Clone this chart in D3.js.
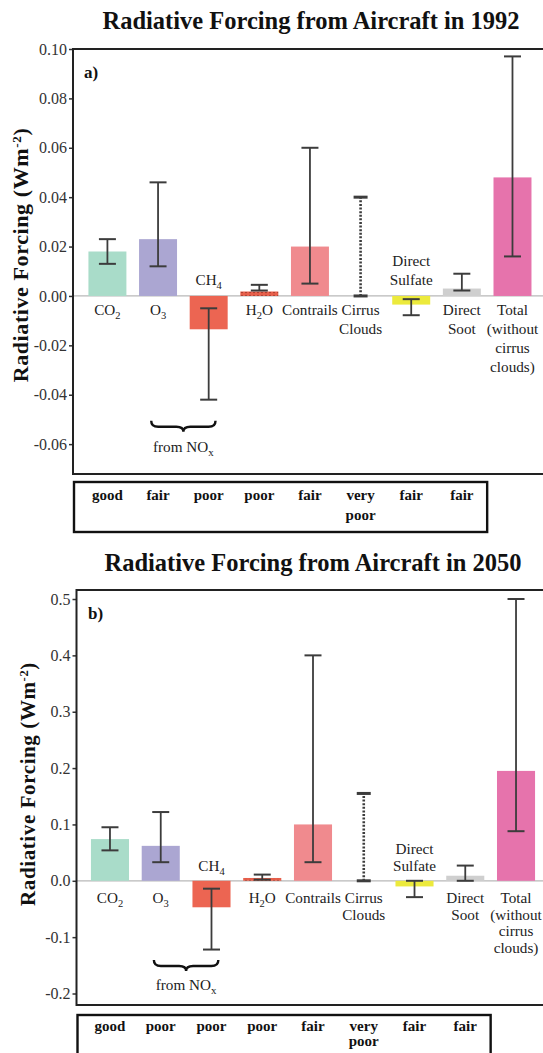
<!DOCTYPE html>
<html><head><meta charset="utf-8">
<script src="https://cdn.jsdelivr.net/npm/d3@7"></script>
<style>body{margin:0;background:#fff;} svg{display:block;} text{font-family:"Liberation Serif",serif;}</style>
</head><body><svg id="c" width="543" height="1053"></svg>
<script>
// ---------- DATA ----------
const categories = ["CO2","O3","CH4","H2O","Contrails","Cirrus","Sulfate","Soot","Total"];
const categoryLabels = [["CO_2"],["O_3"],["CH_4"],["H_2O"],["Contrails"],["Cirrus","Clouds"],["Direct","Sulfate"],["Direct","Soot"],["Total","(without","cirrus","clouds)"]];

const values1992 = [0.018, 0.023, -0.0135, 0.0018, 0.020, null, -0.0035, 0.003, 0.048];
const low1992    = [0.013, 0.012, -0.042, 0.0022, 0.005, 0.0, -0.0078, 0.0022, 0.016];
const high1992   = [0.023, 0.046, -0.005, 0.0045, 0.060, 0.040, -0.0013, 0.009, 0.097];
const quality1992 = ["good","fair","poor","poor","fair","very poor","fair","fair"];
const ticks1992 = [0.10, 0.08, 0.06, 0.04, 0.02, 0.00, -0.02, -0.04, -0.06];
const tickLabels1992 = ["0.10","0.08","0.06","0.04","0.02","0.00","-0.02","-0.04","-0.06"];

const values2050 = [0.074, 0.062, -0.047, 0.005, 0.100, null, -0.010, 0.009, 0.195];
const low2050    = [0.054, 0.033, -0.122, 0.002, 0.033, 0.0, -0.029, 0.0, 0.088];
const high2050   = [0.095, 0.122, -0.014, 0.011, 0.400, 0.155, 0.0, 0.027, 0.500];
const quality2050 = ["good","poor","poor","poor","fair","very poor","fair","fair"];
const ticks2050 = [0.5, 0.4, 0.3, 0.2, 0.1, 0.0, -0.1, -0.2];
const tickLabels2050 = ["0.5","0.4","0.3","0.2","0.1","0.0","-0.1","-0.2"];

// ---------- STYLE ----------
const barColors = ["#a9dcc9","#aba6d2","#ec6552","url(#h2oPat)","#f08a8e","none","#ecea3c","#cfcfcf","#e673ac"];
const SERIF = "Liberation Serif, serif";
const svg = d3.select("#c");

const defs = svg.append("defs");
const pat = defs.append("pattern").attr("id","h2oPat").attr("patternUnits","userSpaceOnUse")
  .attr("width",4).attr("height",3);
pat.append("rect").attr("width",4).attr("height",3).attr("fill","#e8604c");
pat.append("circle").attr("cx",2).attr("cy",1.5).attr("r",0.7).attr("fill","#8a2a1c");

function rich(textSel, s, subSize) {
  const parts = s.split(/_(.)/);
  let shifted = 0;
  parts.forEach((p, i) => {
    if (!p) return;
    const t = textSel.append("tspan").text(p);
    if (i % 2 === 1) { t.attr("dy", 4).attr("font-size", subSize); shifted = 4; }
    else if (shifted) { t.attr("dy", -shifted); shifted = 0; }
  });
}

function braceH(x0, x1, yTop, h) {
  const xc = (x0 + x1) / 2, ym = yTop + h * 0.55, yb = yTop + h, r = 7;
  return `M${x0},${yTop} Q${x0},${ym} ${x0+r},${ym} L${xc-r},${ym} Q${xc},${ym} ${xc},${yb} Q${xc},${ym} ${xc+r},${ym} L${x1-r},${ym} Q${x1},${ym} ${x1},${yTop}`;
}

function draw(cfg) {
  const g = svg.append("g");
  const x = d3.scaleBand().domain(categories).range(cfg.xRange).paddingInner(0.25).paddingOuter(0.125);
  const y = d3.scaleLinear().domain(cfg.yDomain).range([cfg.bottom, cfg.top]);
  const step = x.step(), bw = x.bandwidth();
  const cx = c => x(c) + bw / 2;

  g.append("text").attr("x", cfg.titleX).attr("y", cfg.titleY).attr("text-anchor","middle")
    .attr("font-family", SERIF).attr("font-weight","bold").attr("font-size", 24.5).attr("fill","#111")
    .text(cfg.title);

  g.append("line").attr("x1", cfg.left).attr("x2", cfg.right).attr("y1", y(0)).attr("y2", y(0))
    .attr("stroke","#b8b8b8").attr("stroke-width",1.2);

  g.selectAll("rect.bar").data(categories.map((c,i)=>({c, v: cfg.values[i], i})).filter(d => d.v !== null))
    .join("rect").attr("class","bar")
    .attr("x", d => x(d.c)).attr("width", bw)
    .attr("y", d => y(Math.max(0, d.v))).attr("height", d => Math.abs(y(d.v) - y(0)))
    .attr("fill", d => barColors[d.i]);

  const eb = categories.map((c,i)=>({c, lo: cfg.low[i], hi: cfg.high[i], dotted: cfg.values[i] === null}));
  const eg = g.append("g").attr("stroke","#3c3c3c");
  eb.forEach(d => {
    const xc = cx(d.c);
    eg.append("line").attr("x1", xc).attr("x2", xc).attr("y1", y(d.lo)).attr("y2", y(d.hi))
      .attr("stroke-width", d.dotted ? 2.6 : 1.8).attr("stroke-dasharray", d.dotted ? "2,1.6" : null);
    const cw = d.dotted ? 7 : 8.5;
    [d.lo, d.hi].forEach(v => eg.append("line").attr("x1", xc - cw).attr("x2", xc + cw)
      .attr("y1", y(v)).attr("y2", y(v)).attr("stroke-width", d.dotted ? 3 : 2));
  });

  categories.forEach((c, i) => {
    const lines = categoryLabels[i];
    const above = cfg.values[i] !== null && cfg.values[i] < 0;
    lines.forEach((ln, j) => {
      const yy = above ? y(0) - cfg.labelAbove - (lines.length - 1 - j) * cfg.lineHAbove
                       : y(0) + cfg.labelBelow + j * cfg.lineH;
      const t = g.append("text").attr("x", cx(c)).attr("y", yy).attr("text-anchor","middle")
        .attr("font-family", SERIF).attr("font-size", cfg.labelSize).attr("fill","#222");
      rich(t, ln, 10.5);
    });
  });

  const mid = (cx("O3") + cx("CH4")) / 2;
  const bx0 = mid - step * 0.635, bx1 = mid + step * 0.635;
  g.append("path").attr("d", braceH(bx0, bx1, y(cfg.braceV), cfg.braceH))
    .attr("fill","none").attr("stroke","#111").attr("stroke-width",2.4);
  const ft = g.append("text").attr("x", mid).attr("y", y(cfg.fromV)).attr("text-anchor","middle")
    .attr("font-family", SERIF).attr("font-size", cfg.labelSize).attr("fill","#222");
  rich(ft, "from NO_x", 11);

  g.append("text").attr("x", cfg.panelX).attr("y", cfg.panelY).attr("font-family", SERIF)
    .attr("font-weight","bold").attr("font-size", 17).attr("fill","#111").text(cfg.panel);

  const ax = g.append("g").attr("transform", `translate(${cfg.left},0)`)
    .call(d3.axisLeft(y).tickValues(cfg.ticks).tickFormat((d,i)=>cfg.tickLabels[i]).tickSize(4).tickPadding(2).tickSizeOuter(0));
  ax.attr("font-family", SERIF);
  ax.select(".domain").remove();
  ax.selectAll(".tick line").attr("stroke","#333").attr("stroke-width",1.5);
  ax.selectAll(".tick text").attr("font-family", SERIF).attr("font-size", cfg.tickSize).attr("fill","#333");

  g.append("path").attr("d", `M${cfg.right},${cfg.top} L${cfg.left},${cfg.top} L${cfg.left},${cfg.bottom} L${cfg.right},${cfg.bottom}`)
    .attr("fill","none").attr("stroke","#222").attr("stroke-width",2);

  const yt = g.append("text").attr("transform", `translate(${cfg.yTitleX},${cfg.yTitleY}) rotate(-90)`)
    .attr("text-anchor","middle").attr("font-family", SERIF).attr("font-weight","bold")
    .attr("font-size", cfg.yTitleSize).attr("letter-spacing", 0.6).attr("fill","#111");
  yt.append("tspan").text("Radiative Forcing (Wm");
  yt.append("tspan").attr("dy",-7).attr("font-size", cfg.yTitleSize * 0.6).text("-2");
  yt.append("tspan").attr("dy",7).text(")");

  const tx1 = cx("Soot") + step / 2;
  g.append("rect").attr("x", cfg.left + 1).attr("y", cfg.tableTop).attr("width", tx1 - cfg.left - 1)
    .attr("height", cfg.tableBottom - cfg.tableTop).attr("fill","none").attr("stroke","#111").attr("stroke-width",2.4);
  cfg.quality.forEach((q, i) => {
    q.split(" ").forEach((w, j) => {
      g.append("text").attr("x", cx(categories[i])).attr("y", cfg.tableBase + j * cfg.tableLineH)
        .attr("text-anchor","middle").attr("font-family", SERIF).attr("font-weight","bold")
        .attr("font-size", 15).attr("fill","#111").text(w);
    });
  });
}

draw({
  title: "Radiative Forcing from Aircraft in 1992", titleX: 311, titleY: 29,
  panel: "a)", panelX: 84, panelY: 78,
  left: 73, right: 546, top: 49, bottom: 474,
  xRange: [82.1, 537.8], yDomain: [-0.0721, 0.10],
  ticks: ticks1992, tickLabels: tickLabels1992, tickSize: 16,
  values: values1992, low: low1992, high: high1992, quality: quality1992,
  yTitleX: 28, yTitleY: 255, yTitleSize: 22,
  labelBelow: 19, labelAbove: 11, lineH: 19, lineHAbove: 18.5, labelSize: 15.2,
  braceV: -0.0505, braceH: 11, fromV: -0.0632,
  tableTop: 482, tableBottom: 532, tableBase: 500, tableLineH: 20
});
draw({
  title: "Radiative Forcing from Aircraft in 2050", titleX: 313, titleY: 571,
  panel: "b)", panelX: 88, panelY: 619,
  left: 76.5, right: 546, top: 590, bottom: 1005,
  xRange: [84.6, 541.4], yDomain: [-0.2204, 0.516],
  ticks: ticks2050, tickLabels: tickLabels2050, tickSize: 16,
  values: values2050, low: low2050, high: high2050, quality: quality2050,
  yTitleX: 35, yTitleY: 784, yTitleSize: 21,
  labelBelow: 22, labelAbove: 10, lineH: 16.8, lineHAbove: 17, labelSize: 15.2,
  braceV: -0.1405, braceH: 11, fromV: -0.1938,
  tableTop: 1015, tableBottom: 1075, tableBase: 1031, tableLineH: 15
});
</script></body></html>
